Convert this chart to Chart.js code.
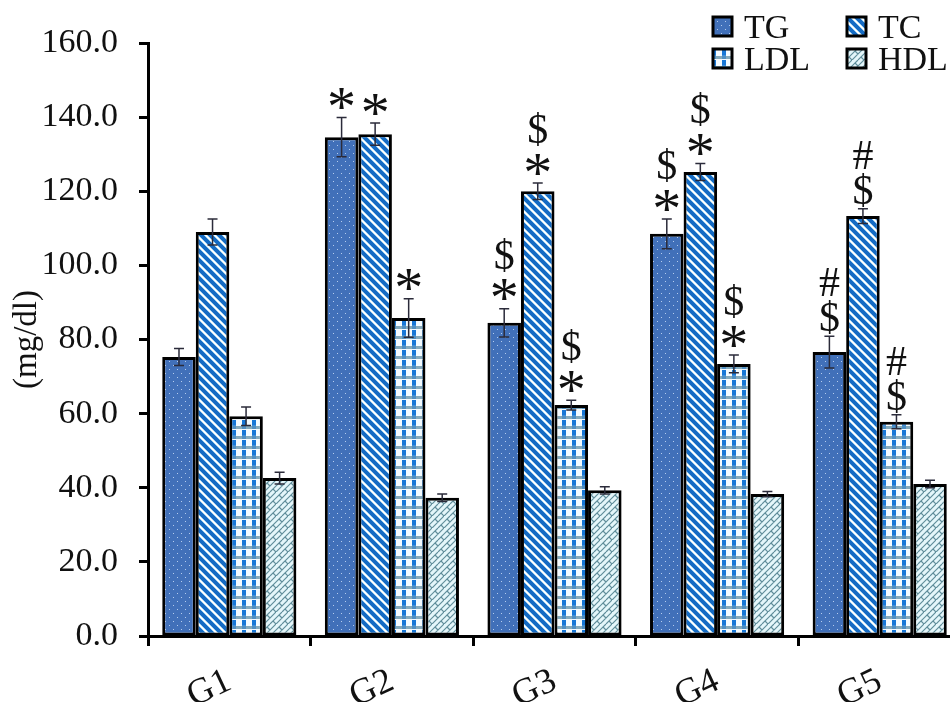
<!DOCTYPE html>
<html>
<head>
<meta charset="utf-8">
<script src="https://cdn.jsdelivr.net/npm/chart.js@4.4.1/dist/chart.umd.min.js"></script>
<style>
  html, body { margin: 0; padding: 0; background: #fff; }
  #wrap { width: 950px; height: 702px; overflow: hidden; }
</style>
</head>
<body>
<div id="wrap"><canvas id="chart" width="962" height="702"></canvas></div>
<script>
// ---- data ----
const groups = ["G1", "G2", "G3", "G4", "G5"];
const seriesNames = ["TG", "TC", "LDL", "HDL"];

const tgValues  = [75.3, 134.6, 84.5, 108.5, 76.6];
const tcValues  = [109.0, 135.4, 120.0, 125.2, 113.3];
const ldlValues = [59.3, 85.8, 62.3, 73.4, 57.8];
const hdlValues = [42.6, 37.3, 39.3, 38.3, 41.0];

const tgErr  = [2.3, 5.3, 3.8, 4.0, 4.3];
const tcErr  = [3.5, 3.0, 2.2, 2.3, 2.0];
const ldlErr = [2.5, 5.2, 1.3, 2.4, 1.9];
const hdlErr = [1.6, 1.0, 1.0, 0.7, 1.0];

// significance marks, listed from bottom to top
const tgMarks  = ["", "*", "*$", "*$", "$#"];
const tcMarks  = ["", "*", "*$", "*$", "$#"];
const ldlMarks = ["", "*", "*$", "*$", "$#"];
const hdlMarks = ["", "", "", "", ""];

const yTicks = [0, 20, 40, 60, 80, 100, 120, 140, 160];

const FONT = "'Liberation Serif', 'Times New Roman', serif";

/* ---------- fill patterns ---------- */
function makeTile(w, h, paint) {
  const c = document.createElement("canvas");
  c.width = w; c.height = h;
  const g = c.getContext("2d");
  paint(g, w, h);
  return document.getElementById("chart").getContext("2d").createPattern(c, "repeat");
}

// TG: blue with small white dots
const patTG = makeTile(8, 8, (g, w, h) => {
  g.fillStyle = "#4170b9"; g.fillRect(0, 0, w, h);
  g.fillStyle = "rgba(220,235,255,0.75)";
  g.fillRect(1, 1, 1, 1);
  g.fillRect(5, 5, 1, 1);
});

// TC: downward diagonal stripes
const patTC = makeTile(9, 9, (g, w, h) => {
  for (let y = 0; y < h; y++) {
    for (let x = 0; x < w; x++) {
      const k = (x - y + 18) % 9;
      g.fillStyle = k < 5 ? "#156bc4" : (k === 5 || k === 8 ? "#9fd0ee" : "#ffffff");
      g.fillRect(x, y, 1, 1);
    }
  }
});

// LDL: plaid blue / grey
const patLDL = makeTile(10, 10, (g, w, h) => {
  g.fillStyle = "#f4fbff"; g.fillRect(0, 0, w, h);
  g.fillStyle = "#1877d6"; g.fillRect(2, 0, 4, 5);
  g.fillStyle = "#3f8fd8"; g.fillRect(2, 5, 4, 1);
  g.fillStyle = "#86aabb"; g.fillRect(0, 6, w, 3);
  g.fillStyle = "#4f8fc4"; g.fillRect(2, 6, 4, 3);
});

// HDL: light cyan with zigzag brick lines
const patHDL = makeTile(12, 12, (g, w, h) => {
  g.fillStyle = "#e4f6fa"; g.fillRect(0, 0, w, h);
  g.strokeStyle = "#5f8d9a"; g.lineWidth = 1.2;
  g.beginPath();
  g.moveTo(0, 12); g.lineTo(12, 0);
  g.moveTo(-6, 12); g.lineTo(6, 0);
  g.moveTo(6, 12); g.lineTo(18, 0);
  g.moveTo(3, 3); g.lineTo(6, 6);
  g.moveTo(9, 9); g.lineTo(12, 12);
  g.moveTo(9, -3); g.lineTo(12, 0);
  g.stroke();
});

const patterns = [patTG, patTC, patLDL, patHDL];
const allValues = [tgValues, tcValues, ldlValues, hdlValues];
const allErr = [tgErr, tcErr, ldlErr, hdlErr];
const allMarks = [tgMarks, tcMarks, ldlMarks, hdlMarks];

/* ---------- error bars + marks ---------- */
const errorBarPlugin = {
  id: "errorBars",
  afterDatasetsDraw(chart) {
    const ctx = chart.ctx;
    const y = chart.scales.y;
    ctx.save();
    chart.data.datasets.forEach((ds, di) => {
      const meta = chart.getDatasetMeta(di);
      meta.data.forEach((bar, i) => {
        const v = ds.data[i], e = allErr[di][i];
        const yt = y.getPixelForValue(v + e);
        const yb = y.getPixelForValue(v - e);
        ctx.strokeStyle = "#2b2b3a";
        ctx.lineWidth = 1.5;
        ctx.beginPath();
        ctx.moveTo(bar.x, yt); ctx.lineTo(bar.x, yb);
        ctx.moveTo(bar.x - 5, yt); ctx.lineTo(bar.x + 5, yt);
        ctx.moveTo(bar.x - 5, yb); ctx.lineTo(bar.x + 5, yb);
        ctx.stroke();

        const marks = allMarks[di][i];
        ctx.fillStyle = "#111";
        ctx.textAlign = "center";
        ctx.textBaseline = "alphabetic";
        for (let k = 0; k < marks.length; k++) {
          const s = marks[k];
          ctx.font = (s === "*" ? "58px " : "42px ") + FONT;
          const m = ctx.measureText(s);
          const cy = yt - 19 - 35 * k;
          ctx.fillText(s, bar.x, cy + (m.actualBoundingBoxAscent - m.actualBoundingBoxDescent) / 2);
        }
      });
    });
    ctx.restore();
  }
};

/* ---------- two-column legend ---------- */
const legendPlugin = {
  id: "gridLegend",
  afterDraw(chart) {
    const ctx = chart.ctx;
    ctx.save();
    seriesNames.forEach((name, i) => {
      const col = i % 2, row = Math.floor(i / 2);
      const bx = 713 + col * 134, by = 17 + row * 32;
      ctx.fillStyle = patterns[i];
      ctx.fillRect(bx, by, 19, 19);
      ctx.strokeStyle = "#000";
      ctx.lineWidth = 3;
      ctx.strokeRect(bx, by, 19, 19);
      ctx.fillStyle = "#111";
      ctx.font = "34px " + FONT;
      ctx.textAlign = "left";
      ctx.textBaseline = "alphabetic";
      ctx.fillText(name, bx + 31, by + 21);
    });
    ctx.restore();
  }
};

new Chart(document.getElementById("chart"), {
  type: "bar",
  data: {
    labels: groups,
    datasets: seriesNames.map((name, i) => ({
      label: name,
      data: allValues[i],
      backgroundColor: patterns[i],
      borderColor: "#000",
      borderWidth: 3,
      borderSkipped: false,
      categoryPercentage: 0.825,
      barPercentage: 1
    }))
  },
  options: {
    responsive: false,
    animation: false,
    layout: { padding: { top: 43, right: 1, left: 0, bottom: 0 } },
    plugins: { legend: { display: false }, tooltip: { enabled: false } },
    scales: {
      x: {
        grid: { display: true, drawOnChartArea: false, offset: true, tickLength: 10, tickWidth: 3, tickColor: "#000" },
        border: { display: true, color: "#000", width: 3 },
        ticks: { minRotation: 25, maxRotation: 25, color: "#111", padding: 14, font: { family: FONT, size: 36 } },
        afterFit(s) { s.height = 66; }
      },
      y: {
        min: 0,
        max: 160,
        afterBuildTicks(s) { s.ticks = yTicks.map(v => ({ value: v })); },
        grid: { display: true, drawOnChartArea: false, tickLength: 9, tickWidth: 3, tickColor: "#000" },
        border: { display: true, color: "#000", width: 3 },
        ticks: { color: "#111", padding: 21, font: { family: FONT, size: 34 }, callback: v => v.toFixed(1) },
        title: { display: true, text: "(mg/dl)", color: "#111", font: { family: FONT, size: 33 }, padding: { top: 8 } },
        afterFit(s) { s.width = 148; }
      }
    }
  },
  plugins: [errorBarPlugin, legendPlugin]
});
</script>
</body>
</html>
